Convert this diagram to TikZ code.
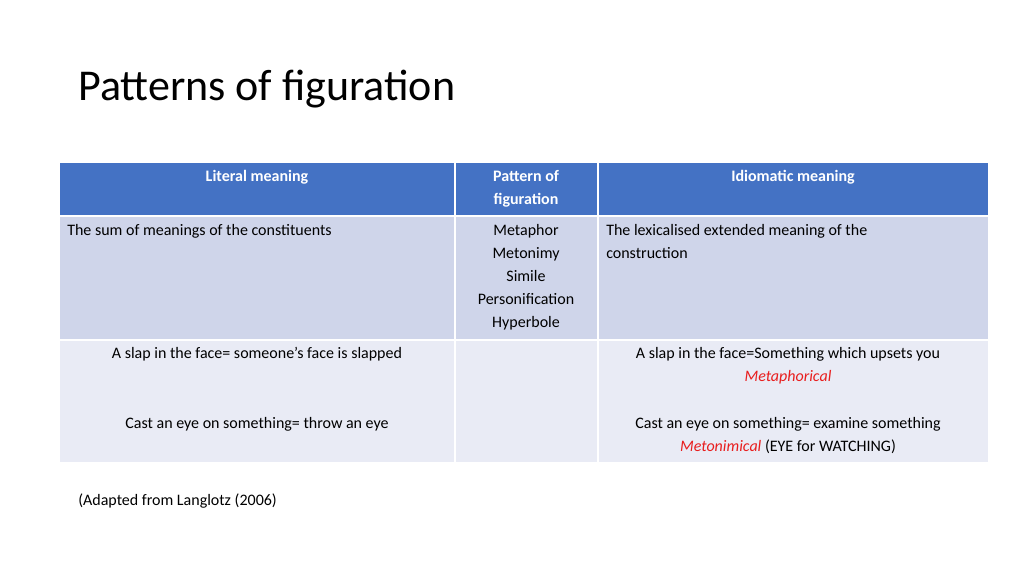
\documentclass[tikz,border=0pt]{standalone}
\usepackage{fontspec}
\setmainfont{Carlito}
\usetikzlibrary{positioning}
\definecolor{headblue}{HTML}{4472C4}
\definecolor{rowdark}{HTML}{CFD5EA}
\definecolor{rowlight}{HTML}{E9EBF5}
\definecolor{figred}{HTML}{E81E1E}
\begin{document}
\begin{tikzpicture}[
        x=0.75pt, y=-0.75pt,
        cell/.style={draw=white, line width=1.5pt},
        txt/.style={font=\fontsize{12}{17.25}\selectfont, align=center, inner sep=0pt, anchor=north},
        head/.style={txt, text=white, font=\fontsize{12}{17.25}\selectfont\bfseries}
    ]
        \useasboundingbox (0,0) rectangle (1024,576);
        % Title
        \node[anchor=base west, inner sep=0pt, font=\fontsize{33}{40}\selectfont] (title) at (78,100) {Patterns of figuration};
        % Cells
        \fill[headblue] (60,163) rectangle (988,216);
        \fill[rowdark] (60,216) rectangle (988,340);
        \fill[rowlight] (60,340) rectangle (988,462);
        \foreach \xx in {455,598} \draw[cell] (\xx,163) -- (\xx,462);
        \foreach \yy in {216,340} \draw[cell] (60,\yy) -- (988,\yy);
        % Header
        \node[head] (hlit) at (257,170) {Literal meaning};
        \node[head] (hpat) at (526,170) {Pattern of\\figuration};
        \node[head] (hidi) at (793,170) {Idiomatic meaning};
        % Row 1
        \node[txt, anchor=north west, align=left] (lit1) at (67,224) {The sum of meanings of the constituents};
        \node[txt] (pat1) at (526,224) {Metaphor\\Metonimy\\Simile\\Personification\\Hyperbole};
        \node[txt, anchor=north west, align=left] (idi1) at (606,224) {The lexicalised extended meaning of the\\construction};
        % Row 2
        \node[txt] (lit2) at (257,347) {A slap in the face= someone’s face is slapped};
        \node[txt] (lit3) at (257,417) {Cast an eye on something= throw an eye};
        \node[txt] (idi2) at (788,347) {A slap in the face=Something which upsets you\\\textcolor{figred}{\itshape Metaphorical}};
        \node[txt] (idi3) at (788,417) {Cast an eye on something= examine something\\\textcolor{figred}{\itshape Metonimical} (EYE for WATCHING)};
        % Source
        \node[txt, anchor=north west] (src) at (78,494) {(Adapted from Langlotz (2006)};
    \end{tikzpicture}
\end{document}
